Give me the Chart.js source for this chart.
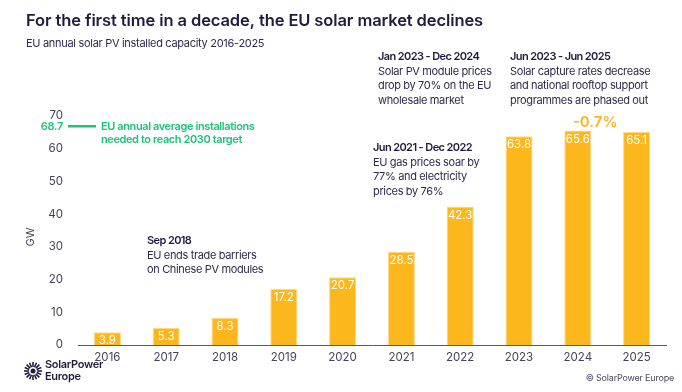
<!DOCTYPE html>
<html>
<head>
<meta charset="utf-8">
<script src="https://cdn.jsdelivr.net/npm/chart.js@4.4.1/dist/chart.umd.min.js"></script>
<style>
  html, body { margin: 0; padding: 0; background: #fff; }
  #wrap { width: 682px; height: 392px; position: relative; }
</style>
</head>
<body>
<div id="wrap"><canvas id="solarChart"></canvas></div>
<script>
const years = ['2016', '2017', '2018', '2019', '2020', '2021', '2022', '2023', '2024', '2025'];
const installedGW = [3.9, 5.3, 8.3, 17.2, 20.7, 28.5, 42.3, 63.8, 65.6, 65.1];
const yTicks = [0, 10, 20, 30, 40, 50, 60, 70];
const targetGW = 68.7;
const changeLabel = '-0.7%';

const navy = '#1f1c3d';
const grey = '#45435a';
const orange = '#fcb71d';
const green = '#20c27a';
const font = 'Inter, "Noto Sans", sans-serif';

const notes = [
    { x: 147, y: 241, lines: ['Sep 2018', 'EU ends trade barriers', 'on Chinese PV modules'] },
    { x: 373, y: 148, lines: ['Jun 2021 - Dec 2022', 'EU gas prices soar by', '77% and electricity', 'prices by 76%'] },
    { x: 378, y: 57, lines: ['Jan 2023 - Dec 2024', 'Solar PV module prices', 'drop by 70% on the EU', 'wholesale market'] },
    { x: 510, y: 57, lines: ['Jun 2023 - Jun 2025', 'Solar capture rates decrease', 'and national rooftop support', 'programmes are phased out'] }
];

// fit text into a given width by squeezing letter spacing
function tightText(c, text, x, y, spacing) {
    c.letterSpacing = spacing + 'px';
    c.fillText(text, x, y);
    c.letterSpacing = '0px';
}

// text, notes, labels and logo drawn on top of the chart
const decor = {
    id: 'decor',
    afterDraw(chart) {
        const c = chart.ctx;
        const y = chart.scales.y;
        c.save();
        c.textBaseline = 'middle';

        // title + subtitle
        c.fillStyle = navy;
        c.font = '600 16.5px ' + font;
        c.textAlign = 'left';
        tightText(c, 'For the first time in a decade, the EU solar market declines', 26, 21, -0.1);
        c.font = '11px ' + font;
        c.fillStyle = '#2e2b4a';
        tightText(c, 'EU annual solar PV installed capacity 2016-2025', 26, 44, -0.3);

        // GW axis title
        c.save();
        c.translate(31, 237);
        c.rotate(-Math.PI / 2);
        c.textAlign = 'center';
        c.fillStyle = grey;
        c.font = '11px ' + font;
        c.fillText('GW', 0, 0);
        c.restore();

        // notes
        notes.forEach(n => {
            n.lines.forEach((line, i) => {
                c.font = (i === 0 ? '600 ' : '') + '11px ' + font;
                c.fillStyle = i === 0 ? navy : '#2e2b4a';
                tightText(c, line, n.x, n.y + i * 14.5, i === 0 ? -0.6 : -0.35);
            });
        });

        // target line
        const ty = y.getPixelForValue(targetGW) + 6;
        c.fillStyle = green;
        c.font = '600 11px ' + font;
        c.textAlign = 'right';
        tightText(c, targetGW.toFixed(1), 63, ty, -0.3);
        c.strokeStyle = green;
        c.lineWidth = 2.5;
        c.beginPath();
        c.moveTo(68, ty);
        c.lineTo(96, ty);
        c.stroke();
        c.textAlign = 'left';
        tightText(c, 'EU annual average installations', 101, ty, -0.4);
        tightText(c, 'needed to reach 2030 target', 101, ty + 13.5, -0.4);

        // change label between 2024 and 2025
        const meta = chart.getDatasetMeta(0);
        const b24 = meta.data[8], b25 = meta.data[9];
        c.textAlign = 'center';
        c.fillStyle = orange;
        c.font = '600 15px ' + font;
        c.fillText(changeLabel, (b24.x + b25.x) / 2 - 12, b24.y - 8);

        // footer
        c.fillStyle = '#4a4860';
        c.font = '9px ' + font;
        c.textAlign = 'right';
        tightText(c, '\u00a9 SolarPower Europe', 674, 378, -0.2);

        // logo sun
        const cx = 33, cy = 371;
        c.strokeStyle = navy;
        c.fillStyle = navy;
        c.lineWidth = 1.6;
        for (let k = 0; k < 16; k++) {
            const a = k * Math.PI / 8;
            c.beginPath();
            c.moveTo(cx + Math.cos(a) * 4, cy + Math.sin(a) * 4);
            c.lineTo(cx + Math.cos(a) * 9, cy + Math.sin(a) * 9);
            c.stroke();
        }
        c.beginPath();
        c.arc(cx, cy, 2.5, 0, Math.PI * 2);
        c.fill();
        c.textAlign = 'left';
        c.font = '600 11px ' + font;
        tightText(c, 'SolarPower', 45, 365, -0.3);
        tightText(c, 'Europe', 45, 377, -0.3);
        c.restore();
    },
    afterDatasetsDraw(chart) {
        const c = chart.ctx;
        const meta = chart.getDatasetMeta(0);
        c.save();
        c.fillStyle = '#fff';
        c.font = '11.5px ' + font;
        c.textAlign = 'center';
        c.textBaseline = 'top';
        meta.data.forEach((bar, i) => {
            c.fillText(installedGW[i].toFixed(1), bar.x, bar.y + 3);
        });
        c.restore();
    }
};

const ctx = document.getElementById('solarChart').getContext('2d');

const chart = new Chart(ctx, {
    type: 'bar',
    data: {
        labels: years,
        datasets: [{
            data: installedGW,
            backgroundColor: orange,
            borderColor: '#ffd88a',
            borderWidth: { top: 1, left: 1, right: 1, bottom: 0 },
            borderSkipped: 'bottom',
            categoryPercentage: 1,
            barPercentage: 0.46
        }]
    },
    options: {
        responsive: true,
        maintainAspectRatio: false,
        animation: false,
        layout: { padding: { top: 116, right: 16, bottom: 22, left: 0 } },
        plugins: {
            legend: { display: false },
            tooltip: { enabled: false }
        },
        scales: {
            x: {
                grid: { display: false, drawTicks: false },
                border: { display: true, color: '#5a5868', width: 1 },
                ticks: { color: grey, font: { family: font, size: 11.5 }, padding: 6 },
                afterFit(s) { s.height = 25; }
            },
            y: {
                min: 0,
                max: 70,
                grid: { display: false, drawTicks: false },
                border: { display: false },
                afterBuildTicks(s) { s.ticks = yTicks.map(v => ({ value: v })); },
                ticks: { color: grey, font: { family: font, size: 11.5 }, padding: 15 },
                afterFit(s) { s.width = 78; }
            }
        }
    },
    plugins: [decor]
});
</script>
</body>
</html>
